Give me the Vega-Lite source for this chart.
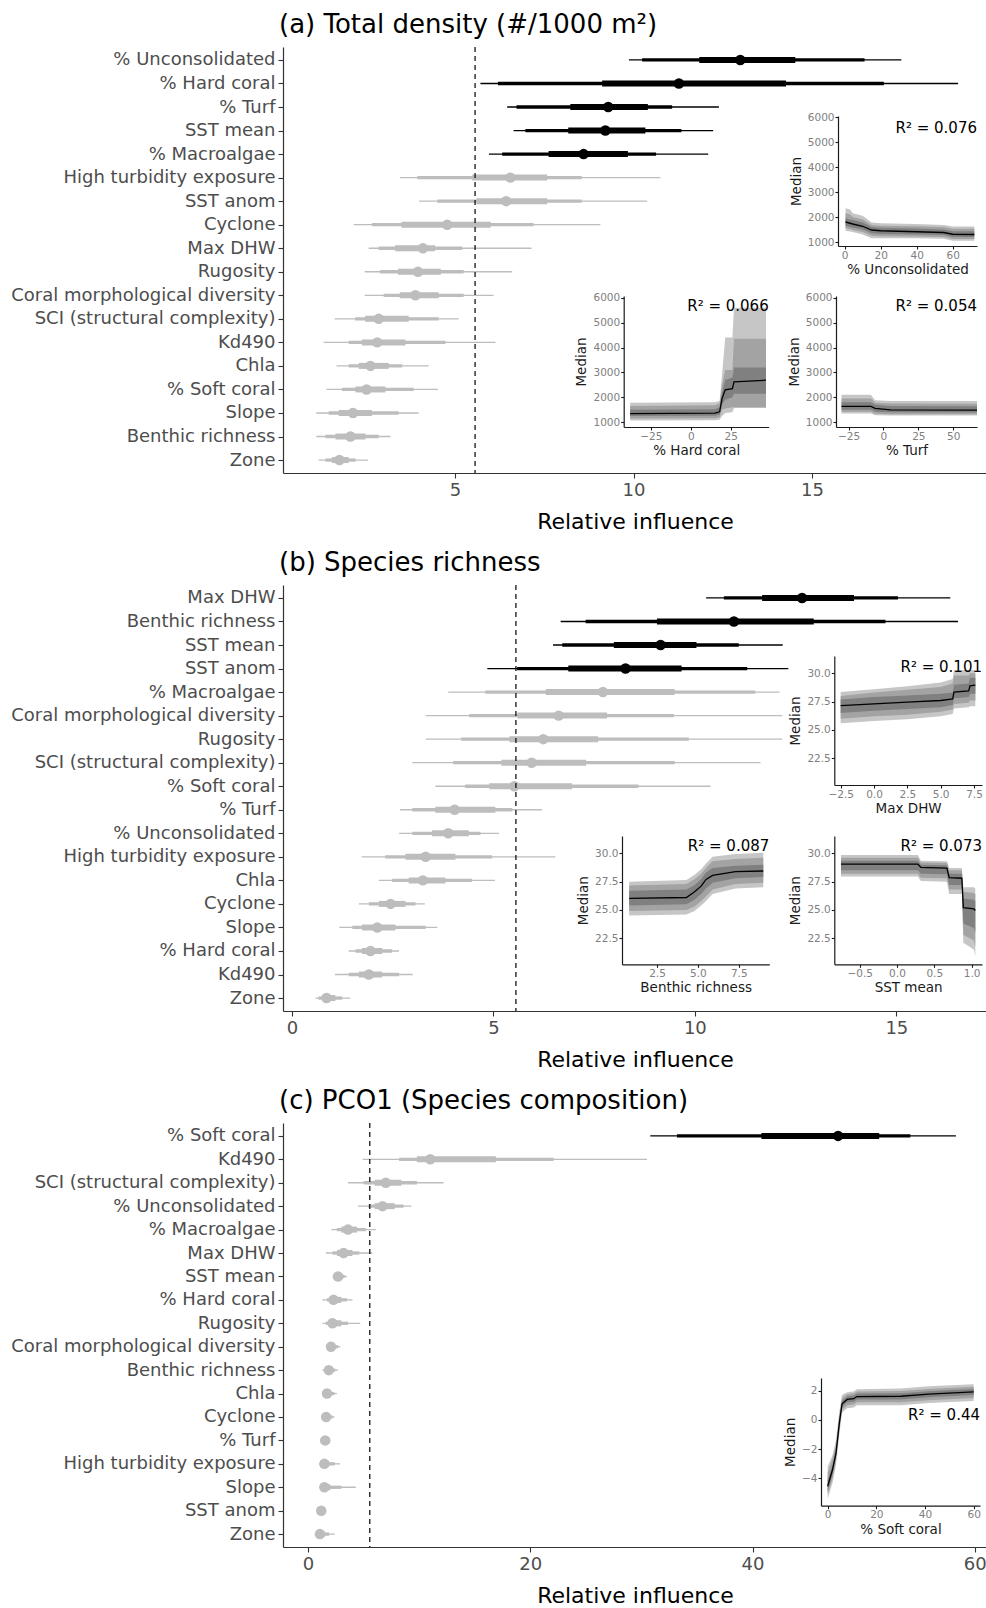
{
  "$schema": "https://vega.github.io/schema/vega-lite/v6.json",
  "background": "white",
  "padding": {"left": 10, "top": 12, "right": 0, "bottom": 0},
  "autosize": {"type": "pad"},
  "config": {
    "font": "DejaVu Sans",
    "view": {"stroke": null},
    "axis": {"grid": false, "domainColor": "#333333", "tickColor": "#333333", "labelColor": "#4d4d4d", "labelFontSize": 18, "titleFontSize": 22, "titleFontWeight": "normal", "titleColor": "#000000", "tickSize": 5, "labelPadding": 3, "domainWidth": 1.2, "tickWidth": 1.1, "labelFont": "DejaVu Sans", "titleFont": "DejaVu Sans", "labelLimit": 400},
    "title": {"font": "DejaVu Sans", "fontSize": 26, "fontWeight": "normal", "color": "#000000", "anchor": "start", "frame": "group", "offset": 8}
  },
  "datasets": {
    "a": [
      {"var": "% Unconsolidated", "lo95": 9.87, "hi95": 17.5, "lo80": 10.24, "hi80": 16.47, "lo50": 11.84, "hi50": 14.53, "med": 12.99, "sig": "yes"},
      {"var": "% Hard coral", "lo95": 5.71, "hi95": 19.09, "lo80": 6.2, "hi80": 17.01, "lo50": 9.12, "hi50": 14.27, "med": 11.27, "sig": "yes"},
      {"var": "% Turf", "lo95": 6.46, "hi95": 12.39, "lo80": 6.72, "hi80": 11.08, "lo50": 8.23, "hi50": 10.4, "med": 9.29, "sig": "yes"},
      {"var": "SST mean", "lo95": 6.64, "hi95": 12.23, "lo80": 6.97, "hi80": 11.34, "lo50": 8.17, "hi50": 10.33, "med": 9.21, "sig": "yes"},
      {"var": "% Macroalgae", "lo95": 5.95, "hi95": 12.09, "lo80": 6.32, "hi80": 10.63, "lo50": 7.62, "hi50": 9.84, "med": 8.6, "sig": "yes"},
      {"var": "High turbidity exposure", "lo95": 3.46, "hi95": 10.75, "lo80": 3.94, "hi80": 8.55, "lo50": 5.48, "hi50": 7.58, "med": 6.55, "sig": "no"},
      {"var": "SST anom", "lo95": 3.99, "hi95": 10.38, "lo80": 4.5, "hi80": 8.55, "lo50": 5.6, "hi50": 7.58, "med": 6.43, "sig": "no"},
      {"var": "Cyclone", "lo95": 2.16, "hi95": 9.07, "lo80": 2.67, "hi80": 7.2, "lo50": 3.5, "hi50": 6.0, "med": 4.78, "sig": "no"},
      {"var": "Max DHW", "lo95": 2.58, "hi95": 7.14, "lo80": 2.86, "hi80": 5.2, "lo50": 3.32, "hi50": 4.44, "med": 4.1, "sig": "no"},
      {"var": "Rugosity", "lo95": 2.47, "hi95": 6.6, "lo80": 2.9, "hi80": 5.24, "lo50": 3.4, "hi50": 4.6, "med": 3.96, "sig": "no"},
      {"var": "Coral morphological diversity", "lo95": 2.47, "hi95": 6.08, "lo80": 3.0, "hi80": 5.24, "lo50": 3.45, "hi50": 4.54, "med": 3.89, "sig": "no"},
      {"var": "SCI (structural complexity)", "lo95": 1.63, "hi95": 5.1, "lo80": 2.2, "hi80": 4.54, "lo50": 2.48, "hi50": 3.7, "med": 2.86, "sig": "no"},
      {"var": "Kd490", "lo95": 1.32, "hi95": 6.13, "lo80": 2.02, "hi80": 4.73, "lo50": 2.39, "hi50": 3.61, "med": 2.82, "sig": "no"},
      {"var": "Chla", "lo95": 1.68, "hi95": 4.26, "lo80": 2.02, "hi80": 3.52, "lo50": 2.3, "hi50": 3.14, "med": 2.63, "sig": "no"},
      {"var": "% Soft coral", "lo95": 1.4, "hi95": 4.52, "lo80": 1.83, "hi80": 3.84, "lo50": 2.21, "hi50": 3.05, "med": 2.52, "sig": "no"},
      {"var": "Slope", "lo95": 1.11, "hi95": 3.98, "lo80": 1.46, "hi80": 3.42, "lo50": 1.74, "hi50": 2.67, "med": 2.14, "sig": "no"},
      {"var": "Benthic richness", "lo95": 1.11, "hi95": 3.19, "lo80": 1.37, "hi80": 2.86, "lo50": 1.65, "hi50": 2.49, "med": 2.07, "sig": "no"},
      {"var": "Zone", "lo95": 1.18, "hi95": 2.56, "lo80": 1.37, "hi80": 2.21, "lo50": 1.55, "hi50": 2.02, "med": 1.76, "sig": "no"}
    ],
    "b": [
      {"var": "Max DHW", "lo95": 10.28, "hi95": 16.34, "lo80": 10.72, "hi80": 15.04, "lo50": 11.67, "hi50": 13.95, "med": 12.66, "sig": "yes"},
      {"var": "Benthic richness", "lo95": 6.67, "hi95": 16.53, "lo80": 7.29, "hi80": 14.73, "lo50": 9.06, "hi50": 12.95, "med": 10.97, "sig": "yes"},
      {"var": "SST mean", "lo95": 6.48, "hi95": 12.18, "lo80": 6.71, "hi80": 11.09, "lo50": 7.99, "hi50": 10.04, "med": 9.15, "sig": "yes"},
      {"var": "SST anom", "lo95": 4.85, "hi95": 12.32, "lo80": 5.59, "hi80": 11.3, "lo50": 6.86, "hi50": 9.67, "med": 8.28, "sig": "yes"},
      {"var": "% Macroalgae", "lo95": 3.88, "hi95": 12.1, "lo80": 4.8, "hi80": 11.5, "lo50": 6.3, "hi50": 9.5, "med": 7.72, "sig": "no"},
      {"var": "Coral morphological diversity", "lo95": 3.32, "hi95": 12.17, "lo80": 4.4, "hi80": 9.48, "lo50": 5.6, "hi50": 7.82, "med": 6.62, "sig": "no"},
      {"var": "Rugosity", "lo95": 3.32, "hi95": 12.17, "lo80": 4.2, "hi80": 9.85, "lo50": 5.4, "hi50": 7.6, "med": 6.24, "sig": "no"},
      {"var": "SCI (structural complexity)", "lo95": 2.99, "hi95": 11.63, "lo80": 4.0, "hi80": 9.5, "lo50": 5.2, "hi50": 7.3, "med": 5.95, "sig": "no"},
      {"var": "% Soft coral", "lo95": 3.56, "hi95": 10.39, "lo80": 4.3, "hi80": 8.6, "lo50": 4.9, "hi50": 6.95, "med": 5.52, "sig": "no"},
      {"var": "% Turf", "lo95": 2.68, "hi95": 6.21, "lo80": 2.99, "hi80": 5.47, "lo50": 3.56, "hi50": 5.05, "med": 4.04, "sig": "no"},
      {"var": "% Unconsolidated", "lo95": 2.66, "hi95": 5.14, "lo80": 2.99, "hi80": 4.68, "lo50": 3.48, "hi50": 4.39, "med": 3.88, "sig": "no"},
      {"var": "High turbidity exposure", "lo95": 1.73, "hi95": 6.54, "lo80": 2.32, "hi80": 4.97, "lo50": 2.82, "hi50": 4.06, "med": 3.32, "sig": "no"},
      {"var": "Chla", "lo95": 2.16, "hi95": 5.04, "lo80": 2.49, "hi80": 4.47, "lo50": 2.9, "hi50": 3.81, "med": 3.25, "sig": "no"},
      {"var": "Cyclone", "lo95": 1.66, "hi95": 3.3, "lo80": 1.91, "hi80": 3.07, "lo50": 2.16, "hi50": 2.82, "med": 2.45, "sig": "no"},
      {"var": "Slope", "lo95": 1.18, "hi95": 3.61, "lo80": 1.5, "hi80": 3.32, "lo50": 1.74, "hi50": 2.57, "med": 2.12, "sig": "no"},
      {"var": "% Hard coral", "lo95": 1.41, "hi95": 2.66, "lo80": 1.58, "hi80": 2.49, "lo50": 1.74, "hi50": 2.24, "med": 1.95, "sig": "no"},
      {"var": "Kd490", "lo95": 1.07, "hi95": 3.0, "lo80": 1.41, "hi80": 2.66, "lo50": 1.66, "hi50": 2.24, "med": 1.91, "sig": "no"},
      {"var": "Zone", "lo95": 0.59, "hi95": 1.45, "lo80": 0.66, "hi80": 1.25, "lo50": 0.75, "hi50": 1.08, "med": 0.86, "sig": "no"}
    ],
    "c": [
      {"var": "% Soft coral", "lo95": 30.8, "hi95": 58.3, "lo80": 33.2, "hi80": 54.2, "lo50": 40.8, "hi50": 51.4, "med": 47.7, "sig": "yes"},
      {"var": "Kd490", "lo95": 4.92, "hi95": 30.5, "lo80": 8.2, "hi80": 22.1, "lo50": 9.8, "hi50": 16.9, "med": 11.0, "sig": "no"},
      {"var": "SCI (structural complexity)", "lo95": 3.6, "hi95": 12.2, "lo80": 5.0, "hi80": 9.8, "lo50": 6.0, "hi50": 8.4, "med": 7.0, "sig": "no"},
      {"var": "% Unconsolidated", "lo95": 4.5, "hi95": 9.3, "lo80": 5.4, "hi80": 8.6, "lo50": 6.0, "hi50": 7.8, "med": 6.7, "sig": "no"},
      {"var": "% Macroalgae", "lo95": 2.1, "hi95": 6.1, "lo80": 2.6, "hi80": 5.2, "lo50": 3.0, "hi50": 4.4, "med": 3.6, "sig": "no"},
      {"var": "Max DHW", "lo95": 1.6, "hi95": 5.8, "lo80": 2.2, "hi80": 4.6, "lo50": 2.6, "hi50": 4.0, "med": 3.2, "sig": "no"},
      {"var": "SST mean", "lo95": 2.2, "hi95": 3.5, "lo80": 2.3, "hi80": 3.3, "lo50": 2.45, "hi50": 3.1, "med": 2.7, "sig": "no"},
      {"var": "% Hard coral", "lo95": 1.3, "hi95": 4.0, "lo80": 1.7, "hi80": 3.5, "lo50": 2.0, "hi50": 3.0, "med": 2.3, "sig": "no"},
      {"var": "Rugosity", "lo95": 1.3, "hi95": 4.7, "lo80": 1.6, "hi80": 3.6, "lo50": 1.9, "hi50": 3.0, "med": 2.2, "sig": "no"},
      {"var": "Coral morphological diversity", "lo95": 1.7, "hi95": 2.9, "lo80": 1.75, "hi80": 2.7, "lo50": 1.85, "hi50": 2.4, "med": 2.07, "sig": "no"},
      {"var": "Benthic richness", "lo95": 1.3, "hi95": 2.7, "lo80": 1.45, "hi80": 2.45, "lo50": 1.6, "hi50": 2.2, "med": 1.87, "sig": "no"},
      {"var": "Chla", "lo95": 1.3, "hi95": 2.6, "lo80": 1.4, "hi80": 2.35, "lo50": 1.5, "hi50": 2.05, "med": 1.71, "sig": "no"},
      {"var": "Cyclone", "lo95": 1.2, "hi95": 2.4, "lo80": 1.3, "hi80": 2.2, "lo50": 1.4, "hi50": 1.95, "med": 1.63, "sig": "no"},
      {"var": "% Turf", "lo95": 1.22, "hi95": 2.0, "lo80": 1.28, "hi80": 1.9, "lo50": 1.35, "hi50": 1.8, "med": 1.55, "sig": "no"},
      {"var": "High turbidity exposure", "lo95": 1.07, "hi95": 2.88, "lo80": 1.15, "hi80": 2.4, "lo50": 1.25, "hi50": 1.9, "med": 1.47, "sig": "no"},
      {"var": "Slope", "lo95": 1.07, "hi95": 4.3, "lo80": 1.15, "hi80": 3.0, "lo50": 1.25, "hi50": 2.0, "med": 1.47, "sig": "no"},
      {"var": "SST anom", "lo95": 0.9, "hi95": 1.6, "lo80": 0.95, "hi80": 1.5, "lo50": 1.0, "hi50": 1.4, "med": 1.19, "sig": "no"},
      {"var": "Zone", "lo95": 0.78, "hi95": 2.4, "lo80": 0.85, "hi80": 1.9, "lo50": 0.9, "hi50": 1.5, "med": 1.07, "sig": "no"}
    ],
    "thr": [{"t": 5.56}],
    "a1": [
      {"x": 0.5, "med": 1800, "lo1": 1450, "hi1": 2350, "lo2": 1550, "hi2": 2150, "lo3": 1650, "hi3": 1950},
      {"x": 3, "med": 1750, "lo1": 1420, "hi1": 2300, "lo2": 1520, "hi2": 2100, "lo3": 1600, "hi3": 1900},
      {"x": 4.5, "med": 1720, "lo1": 1400, "hi1": 2150, "lo2": 1480, "hi2": 2000, "lo3": 1580, "hi3": 1880},
      {"x": 10, "med": 1630, "lo1": 1300, "hi1": 2050, "lo2": 1400, "hi2": 1900, "lo3": 1500, "hi3": 1780},
      {"x": 15, "med": 1480, "lo1": 1150, "hi1": 1780, "lo2": 1250, "hi2": 1680, "lo3": 1350, "hi3": 1600},
      {"x": 20, "med": 1450, "lo1": 1150, "hi1": 1750, "lo2": 1230, "hi2": 1650, "lo3": 1320, "hi3": 1570},
      {"x": 40, "med": 1410, "lo1": 1150, "hi1": 1720, "lo2": 1220, "hi2": 1630, "lo3": 1300, "hi3": 1540},
      {"x": 55, "med": 1380, "lo1": 1130, "hi1": 1680, "lo2": 1200, "hi2": 1600, "lo3": 1280, "hi3": 1500},
      {"x": 60, "med": 1310, "lo1": 1050, "hi1": 1620, "lo2": 1120, "hi2": 1530, "lo3": 1200, "hi3": 1430},
      {"x": 72, "med": 1300, "lo1": 1050, "hi1": 1620, "lo2": 1120, "hi2": 1530, "lo3": 1200, "hi3": 1430}
    ],
    "a2": [
      {"x": -38, "med": 1350, "lo1": 1070, "hi1": 1780, "lo2": 1150, "hi2": 1650, "lo3": 1250, "hi3": 1500},
      {"x": 15, "med": 1370, "lo1": 1080, "hi1": 1800, "lo2": 1160, "hi2": 1680, "lo3": 1260, "hi3": 1520},
      {"x": 18, "med": 1420, "lo1": 1100, "hi1": 1850, "lo2": 1200, "hi2": 1750, "lo3": 1300, "hi3": 1600},
      {"x": 19.5, "med": 1950, "lo1": 1250, "hi1": 2900, "lo2": 1500, "hi2": 2500, "lo3": 1700, "hi3": 2200},
      {"x": 21.5, "med": 2300, "lo1": 1370, "hi1": 4400, "lo2": 1550, "hi2": 3100, "lo3": 1900, "hi3": 2700},
      {"x": 26, "med": 2350, "lo1": 1400, "hi1": 4400, "lo2": 1600, "hi2": 3100, "lo3": 2000, "hi3": 2800},
      {"x": 27, "med": 2620, "lo1": 1575, "hi1": 5600, "lo2": 1600, "hi2": 4350, "lo3": 2150, "hi3": 3200},
      {"x": 47, "med": 2690, "lo1": 1575, "hi1": 5600, "lo2": 1600, "hi2": 4350, "lo3": 2150, "hi3": 3200}
    ],
    "a3": [
      {"x": -30, "med": 1640, "lo1": 1350, "hi1": 2100, "lo2": 1420, "hi2": 1950, "lo3": 1500, "hi3": 1800},
      {"x": -9, "med": 1640, "lo1": 1350, "hi1": 2100, "lo2": 1420, "hi2": 1950, "lo3": 1500, "hi3": 1800},
      {"x": -6, "med": 1560, "lo1": 1280, "hi1": 1880, "lo2": 1340, "hi2": 1780, "lo3": 1420, "hi3": 1700},
      {"x": 5, "med": 1500, "lo1": 1270, "hi1": 1850, "lo2": 1320, "hi2": 1750, "lo3": 1400, "hi3": 1650},
      {"x": 67, "med": 1490, "lo1": 1270, "hi1": 1850, "lo2": 1320, "hi2": 1740, "lo3": 1390, "hi3": 1640}
    ],
    "b1": [
      {"x": -2.5, "med": 27.15, "lo1": 25.6, "hi1": 28.35, "lo2": 26.0, "hi2": 28.0, "lo3": 26.5, "hi3": 27.7},
      {"x": 0, "med": 27.3, "lo1": 25.8, "hi1": 28.6, "lo2": 26.2, "hi2": 28.3, "lo3": 26.7, "hi3": 27.9},
      {"x": 2.5, "med": 27.45, "lo1": 25.95, "hi1": 28.85, "lo2": 26.35, "hi2": 28.55, "lo3": 26.85, "hi3": 28.05},
      {"x": 5.0, "med": 27.6, "lo1": 26.2, "hi1": 29.2, "lo2": 26.6, "hi2": 28.8, "lo3": 27.0, "hi3": 28.2},
      {"x": 5.9, "med": 27.75, "lo1": 26.4, "hi1": 29.5, "lo2": 26.8, "hi2": 29.1, "lo3": 27.2, "hi3": 28.3},
      {"x": 6.0, "med": 28.35, "lo1": 26.9, "hi1": 30.3, "lo2": 27.3, "hi2": 29.8, "lo3": 27.8, "hi3": 29.0},
      {"x": 7.1, "med": 28.45, "lo1": 27.0, "hi1": 30.3, "lo2": 27.4, "hi2": 29.8, "lo3": 27.9, "hi3": 29.1},
      {"x": 7.2, "med": 28.9, "lo1": 27.1, "hi1": 30.3, "lo2": 27.6, "hi2": 30.0, "lo3": 28.2, "hi3": 29.6},
      {"x": 7.6, "med": 28.95, "lo1": 27.1, "hi1": 30.3, "lo2": 27.6, "hi2": 30.0, "lo3": 28.2, "hi3": 29.6}
    ],
    "b2": [
      {"x": 0.8, "med": 26.03, "lo1": 24.5, "hi1": 27.5, "lo2": 24.9, "hi2": 27.15, "lo3": 25.4, "hi3": 26.7},
      {"x": 4.3, "med": 26.1, "lo1": 24.6, "hi1": 27.65, "lo2": 25.0, "hi2": 27.3, "lo3": 25.5, "hi3": 26.8},
      {"x": 4.8, "med": 26.6, "lo1": 24.9, "hi1": 28.1, "lo2": 25.3, "hi2": 27.7, "lo3": 25.9, "hi3": 27.2},
      {"x": 5.2, "med": 27.1, "lo1": 25.4, "hi1": 28.6, "lo2": 25.8, "hi2": 28.2, "lo3": 26.4, "hi3": 27.7},
      {"x": 5.5, "med": 27.7, "lo1": 25.8, "hi1": 29.1, "lo2": 26.2, "hi2": 28.7, "lo3": 26.9, "hi3": 28.3},
      {"x": 5.9, "med": 28.05, "lo1": 26.4, "hi1": 29.7, "lo2": 26.8, "hi2": 29.3, "lo3": 27.4, "hi3": 28.7},
      {"x": 7.3, "med": 28.38, "lo1": 26.9, "hi1": 29.95, "lo2": 27.3, "hi2": 29.5, "lo3": 27.8, "hi3": 28.9},
      {"x": 9.0, "med": 28.44, "lo1": 27.0, "hi1": 30.05, "lo2": 27.4, "hi2": 29.6, "lo3": 27.9, "hi3": 29.0}
    ],
    "b3": [
      {"x": -0.75, "med": 29.05, "lo1": 27.95, "hi1": 29.85, "lo2": 28.2, "hi2": 29.6, "lo3": 28.5, "hi3": 29.35},
      {"x": 0.28, "med": 29.05, "lo1": 27.95, "hi1": 29.85, "lo2": 28.2, "hi2": 29.6, "lo3": 28.5, "hi3": 29.35},
      {"x": 0.32, "med": 28.75, "lo1": 27.55, "hi1": 29.35, "lo2": 27.85, "hi2": 29.2, "lo3": 28.2, "hi3": 29.0},
      {"x": 0.67, "med": 28.7, "lo1": 27.5, "hi1": 29.3, "lo2": 27.8, "hi2": 29.15, "lo3": 28.15, "hi3": 28.95},
      {"x": 0.7, "med": 27.85, "lo1": 26.4, "hi1": 28.7, "lo2": 26.8, "hi2": 28.5, "lo3": 27.2, "hi3": 28.2},
      {"x": 0.87, "med": 27.8, "lo1": 26.4, "hi1": 28.7, "lo2": 26.8, "hi2": 28.5, "lo3": 27.2, "hi3": 28.2},
      {"x": 0.89, "med": 25.2, "lo1": 22.1, "hi1": 27.0, "lo2": 22.8, "hi2": 26.6, "lo3": 23.8, "hi3": 26.0},
      {"x": 1.03, "med": 25.1, "lo1": 21.5, "hi1": 27.0, "lo2": 22.3, "hi2": 26.5, "lo3": 23.4, "hi3": 25.9},
      {"x": 1.05, "med": 24.95, "lo1": 20.9, "hi1": 26.9, "lo2": 21.8, "hi2": 26.4, "lo3": 23.0, "hi3": 25.8}
    ],
    "c1": [
      {"x": 0, "med": -4.55, "lo1": -5.4, "hi1": -3.2, "lo2": -5.1, "hi2": -3.6, "lo3": -4.9, "hi3": -4.1},
      {"x": 2, "med": -3.4, "lo1": -4.3, "hi1": -2.4, "lo2": -4.0, "hi2": -2.7, "lo3": -3.7, "hi3": -3.1},
      {"x": 3.4, "med": -2.3, "lo1": -3.1, "hi1": -1.4, "lo2": -2.8, "hi2": -1.7, "lo3": -2.55, "hi3": -2.0},
      {"x": 4.8, "med": -0.2, "lo1": -1.0, "hi1": 0.6, "lo2": -0.7, "hi2": 0.3, "lo3": -0.45, "hi3": 0.05},
      {"x": 5.9, "med": 1.1, "lo1": 0.5, "hi1": 1.7, "lo2": 0.7, "hi2": 1.5, "lo3": 0.9, "hi3": 1.3},
      {"x": 8, "med": 1.4, "lo1": 0.8, "hi1": 1.9, "lo2": 1.0, "hi2": 1.75, "lo3": 1.2, "hi3": 1.6},
      {"x": 10.7, "med": 1.45, "lo1": 0.85, "hi1": 1.95, "lo2": 1.05, "hi2": 1.8, "lo3": 1.25, "hi3": 1.65},
      {"x": 12, "med": 1.6, "lo1": 1.0, "hi1": 2.1, "lo2": 1.2, "hi2": 1.95, "lo3": 1.4, "hi3": 1.8},
      {"x": 30, "med": 1.62, "lo1": 1.0, "hi1": 2.15, "lo2": 1.2, "hi2": 1.98, "lo3": 1.4, "hi3": 1.82},
      {"x": 41.5, "med": 1.77, "lo1": 1.15, "hi1": 2.3, "lo2": 1.35, "hi2": 2.12, "lo3": 1.55, "hi3": 1.97},
      {"x": 60, "med": 1.92, "lo1": 1.3, "hi1": 2.45, "lo2": 1.5, "hi2": 2.27, "lo3": 1.7, "hi3": 2.12}
    ]
  },
  "vconcat": [
    {
      "width": 704, "height": 426,
      "title": {"text": "(a) Total density (#/1000 m²)", "dx": -4},
      "resolve": {"scale": {"x": "independent", "y": "independent"}, "axis": {"x": "independent", "y": "independent"}},
      "layer": [
        {
          "data": {"name": "a"},
          "encoding": {
            "y": {"field": "var", "type": "nominal", "sort": null, "scale": {"type": "point", "padding": 0.55}, "axis": {"title": null}},
            "color": {"field": "sig", "type": "nominal", "scale": {"domain": ["yes", "no"], "range": ["#000000", "#bdbdbd"]}, "legend": null}
          },
          "layer": [
            {"mark": {"type": "rule", "strokeWidth": 1.3, "strokeCap": "butt"}, "encoding": {"x": {"field": "lo95", "type": "quantitative", "scale": {"domain": [0.18, 19.9]}, "axis": {"values": [5, 10, 15], "title": "Relative influence", "titlePadding": 12}}, "x2": {"field": "hi95"}}},
            {"mark": {"type": "rule", "strokeWidth": 3.3, "strokeCap": "butt"}, "encoding": {"x": {"field": "lo80", "type": "quantitative", "scale": {"domain": [0.18, 19.9]}}, "x2": {"field": "hi80"}}},
            {"mark": {"type": "rule", "strokeWidth": 6, "strokeCap": "butt"}, "encoding": {"x": {"field": "lo50", "type": "quantitative", "scale": {"domain": [0.18, 19.9]}}, "x2": {"field": "hi50"}}},
            {"mark": {"type": "point", "filled": true, "size": 110, "opacity": 1}, "encoding": {"x": {"field": "med", "type": "quantitative", "scale": {"domain": [0.18, 19.9]}}}}
          ]
        },
        {
          "data": {"name": "thr"},
          "mark": {"type": "rule", "strokeDash": [5, 4], "color": "#000000", "strokeWidth": 1.2},
          "encoding": {"x": {"field": "t", "type": "quantitative", "scale": {"domain": [0.18, 19.9]}, "axis": null}}
        },
        {
          "data": {"name": "a1"},
          "encoding": {"x": {"field": "x", "type": "quantitative", "scale": {"domain": [-3.7, 73.5], "range": [555, 694], "nice": false, "zero": false}, "axis": {"orient": "bottom", "offset": -227, "values": [0, 20, 40, 60], "title": "% Unconsolidated", "labelFontSize": 10.5, "titleFontSize": 13.5, "tickSize": 3, "labelPadding": 1, "titlePadding": 2, "labelColor": "#808080", "titleColor": "#1a1a1a", "domainColor": "#1a1a1a", "tickColor": "#1a1a1a", "labelFlush": false}}},
          "layer": [
            {"mark": {"type": "area", "color": "#c6c6c6"}, "encoding": {"y": {"field": "lo1", "type": "quantitative", "scale": {"domain": [840, 6040], "range": [199, 69], "nice": false, "zero": false}, "axis": {"orient": "left", "offset": -555, "values": [1000, 2000, 3000, 4000, 5000, 6000], "format": "d", "title": "Median", "labelFontSize": 10.5, "titleFontSize": 13.5, "tickSize": 3, "labelPadding": 1, "titlePadding": 4, "labelColor": "#808080", "titleColor": "#1a1a1a", "domainColor": "#1a1a1a", "tickColor": "#1a1a1a"}}, "y2": {"field": "hi1"}}},
            {"mark": {"type": "area", "color": "#a3a3a3"}, "encoding": {"y": {"field": "lo2", "type": "quantitative"}, "y2": {"field": "hi2"}}},
            {"mark": {"type": "area", "color": "#808080"}, "encoding": {"y": {"field": "lo3", "type": "quantitative"}, "y2": {"field": "hi3"}}},
            {"mark": {"type": "line", "color": "#000000", "strokeWidth": 1.3}, "encoding": {"y": {"field": "med", "type": "quantitative"}}},
            {"transform": [{"filter": "datum.x == 72"}], "mark": {"type": "text", "align": "right", "baseline": "middle", "fontSize": 15, "fontWeight": "normal", "color": "#000000"}, "encoding": {"x": {"datum": 73.5, "type": "quantitative"}, "y": {"datum": 5560, "type": "quantitative"}, "text": {"value": "R² = 0.076"}}}
          ]
        },
        {
          "data": {"name": "a2"},
          "encoding": {"x": {"field": "x", "type": "quantitative", "scale": {"domain": [-42, 48.7], "range": [340.7, 485.7], "nice": false, "zero": false}, "axis": {"orient": "bottom", "offset": -46, "values": [-25, 0, 25, 50], "title": "% Hard coral", "labelFontSize": 10.5, "titleFontSize": 13.5, "tickSize": 3, "labelPadding": 1, "titlePadding": 2, "labelColor": "#808080", "titleColor": "#1a1a1a", "domainColor": "#1a1a1a", "tickColor": "#1a1a1a", "labelFlush": false}}},
          "layer": [
            {"mark": {"type": "area", "color": "#c6c6c6"}, "encoding": {"y": {"field": "lo1", "type": "quantitative", "scale": {"domain": [810, 6070], "range": [380, 249], "nice": false, "zero": false}, "axis": {"orient": "left", "offset": -340.7, "values": [1000, 2000, 3000, 4000, 5000, 6000], "format": "d", "title": "Median", "labelFontSize": 10.5, "titleFontSize": 13.5, "tickSize": 3, "labelPadding": 1, "titlePadding": 4, "labelColor": "#808080", "titleColor": "#1a1a1a", "domainColor": "#1a1a1a", "tickColor": "#1a1a1a"}}, "y2": {"field": "hi1"}}},
            {"mark": {"type": "area", "color": "#a3a3a3"}, "encoding": {"y": {"field": "lo2", "type": "quantitative"}, "y2": {"field": "hi2"}}},
            {"mark": {"type": "area", "color": "#808080"}, "encoding": {"y": {"field": "lo3", "type": "quantitative"}, "y2": {"field": "hi3"}}},
            {"mark": {"type": "line", "color": "#000000", "strokeWidth": 1.3}, "encoding": {"y": {"field": "med", "type": "quantitative"}}},
            {"transform": [{"filter": "datum.x == 47"}], "mark": {"type": "text", "align": "right", "baseline": "middle", "fontSize": 15, "fontWeight": "normal", "color": "#000000"}, "encoding": {"x": {"datum": 48.7, "type": "quantitative"}, "y": {"datum": 5663, "type": "quantitative"}, "text": {"value": "R² = 0.066"}}}
          ]
        },
        {
          "data": {"name": "a3"},
          "encoding": {"x": {"field": "x", "type": "quantitative", "scale": {"domain": [-34, 67], "range": [553, 694], "nice": false, "zero": false}, "axis": {"orient": "bottom", "offset": -46, "values": [-25, 0, 25, 50], "title": "% Turf", "labelFontSize": 10.5, "titleFontSize": 13.5, "tickSize": 3, "labelPadding": 1, "titlePadding": 2, "labelColor": "#808080", "titleColor": "#1a1a1a", "domainColor": "#1a1a1a", "tickColor": "#1a1a1a", "labelFlush": false}}},
          "layer": [
            {"mark": {"type": "area", "color": "#c6c6c6"}, "encoding": {"y": {"field": "lo1", "type": "quantitative", "scale": {"domain": [810, 6070], "range": [380, 249], "nice": false, "zero": false}, "axis": {"orient": "left", "offset": -553, "values": [1000, 2000, 3000, 4000, 5000, 6000], "format": "d", "title": "Median", "labelFontSize": 10.5, "titleFontSize": 13.5, "tickSize": 3, "labelPadding": 1, "titlePadding": 4, "labelColor": "#808080", "titleColor": "#1a1a1a", "domainColor": "#1a1a1a", "tickColor": "#1a1a1a"}}, "y2": {"field": "hi1"}}},
            {"mark": {"type": "area", "color": "#a3a3a3"}, "encoding": {"y": {"field": "lo2", "type": "quantitative"}, "y2": {"field": "hi2"}}},
            {"mark": {"type": "area", "color": "#808080"}, "encoding": {"y": {"field": "lo3", "type": "quantitative"}, "y2": {"field": "hi3"}}},
            {"mark": {"type": "line", "color": "#000000", "strokeWidth": 1.3}, "encoding": {"y": {"field": "med", "type": "quantitative"}}},
            {"transform": [{"filter": "datum.x == 67"}], "mark": {"type": "text", "align": "right", "baseline": "middle", "fontSize": 15, "fontWeight": "normal", "color": "#000000"}, "encoding": {"x": {"datum": 67, "type": "quantitative"}, "y": {"datum": 5663, "type": "quantitative"}, "text": {"value": "R² = 0.054"}}}
          ]
        }
      ]
    },
    {
      "width": 704, "height": 426,
      "title": {"text": "(b) Species richness", "dx": -4},
      "resolve": {"scale": {"x": "independent", "y": "independent"}, "axis": {"x": "independent", "y": "independent"}},
      "layer": [
        {
          "data": {"name": "b"},
          "encoding": {
            "y": {"field": "var", "type": "nominal", "sort": null, "scale": {"type": "point", "padding": 0.55}, "axis": {"title": null}},
            "color": {"field": "sig", "type": "nominal", "scale": {"domain": ["yes", "no"], "range": ["#000000", "#bdbdbd"]}, "legend": null}
          },
          "layer": [
            {"mark": {"type": "rule", "strokeWidth": 1.3, "strokeCap": "butt"}, "encoding": {"x": {"field": "lo95", "type": "quantitative", "scale": {"domain": [-0.22, 17.25], "nice": false, "zero": false}, "axis": {"values": [0, 5, 10, 15], "title": "Relative influence", "titlePadding": 12}}, "x2": {"field": "hi95"}}},
            {"mark": {"type": "rule", "strokeWidth": 3.3, "strokeCap": "butt"}, "encoding": {"x": {"field": "lo80", "type": "quantitative", "scale": {"domain": [-0.22, 17.25], "nice": false, "zero": false}}, "x2": {"field": "hi80"}}},
            {"mark": {"type": "rule", "strokeWidth": 6, "strokeCap": "butt"}, "encoding": {"x": {"field": "lo50", "type": "quantitative", "scale": {"domain": [-0.22, 17.25], "nice": false, "zero": false}}, "x2": {"field": "hi50"}}},
            {"mark": {"type": "point", "filled": true, "size": 110, "opacity": 1}, "encoding": {"x": {"field": "med", "type": "quantitative", "scale": {"domain": [-0.22, 17.25], "nice": false, "zero": false}}}}
          ]
        },
        {
          "data": {"name": "thr"},
          "mark": {"type": "rule", "strokeDash": [5, 4], "color": "#000000", "strokeWidth": 1.2},
          "encoding": {"x": {"field": "t", "type": "quantitative", "scale": {"domain": [-0.22, 17.25], "nice": false, "zero": false}, "axis": null}}
        },
        {
          "data": {"name": "b1"},
          "encoding": {"x": {"field": "x", "type": "quantitative", "scale": {"domain": [-2.98, 8.1], "range": [551.3, 699], "nice": false, "zero": false}, "axis": {"orient": "bottom", "offset": -226, "values": [-2.5, 0, 2.5, 5, 7.5], "format": ".1f", "title": "Max DHW", "labelFontSize": 10.5, "titleFontSize": 13.5, "tickSize": 3, "labelPadding": 1, "titlePadding": 2, "labelColor": "#808080", "titleColor": "#1a1a1a", "domainColor": "#1a1a1a", "tickColor": "#1a1a1a", "labelFlush": false}}},
          "layer": [
            {"mark": {"type": "area", "color": "#c6c6c6"}, "encoding": {"y": {"field": "lo1", "type": "quantitative", "scale": {"domain": [20.14, 31.53], "range": [200, 71], "nice": false, "zero": false}, "axis": {"orient": "left", "offset": -551.3, "values": [22.5, 25, 27.5, 30], "format": ".1f", "title": "Median", "labelFontSize": 10.5, "titleFontSize": 13.5, "tickSize": 3, "labelPadding": 1, "titlePadding": 4, "labelColor": "#808080", "titleColor": "#1a1a1a", "domainColor": "#1a1a1a", "tickColor": "#1a1a1a"}}, "y2": {"field": "hi1"}}},
            {"mark": {"type": "area", "color": "#a3a3a3"}, "encoding": {"y": {"field": "lo2", "type": "quantitative"}, "y2": {"field": "hi2"}}},
            {"mark": {"type": "area", "color": "#808080"}, "encoding": {"y": {"field": "lo3", "type": "quantitative"}, "y2": {"field": "hi3"}}},
            {"mark": {"type": "line", "color": "#000000", "strokeWidth": 1.3}, "encoding": {"y": {"field": "med", "type": "quantitative"}}},
            {"transform": [{"filter": "datum.x == 7.6"}], "mark": {"type": "text", "align": "right", "baseline": "middle", "fontSize": 15, "fontWeight": "normal", "color": "#000000"}, "encoding": {"x": {"datum": 8.1, "type": "quantitative"}, "y": {"datum": 30.56, "type": "quantitative"}, "text": {"value": "R² = 0.101"}}}
          ]
        },
        {
          "data": {"name": "b2"},
          "encoding": {"x": {"field": "x", "type": "quantitative", "scale": {"domain": [0.36, 9.37], "range": [339, 486.3], "nice": false, "zero": false}, "axis": {"orient": "bottom", "offset": -46.7, "values": [2.5, 5, 7.5], "format": ".1f", "title": "Benthic richness", "labelFontSize": 10.5, "titleFontSize": 13.5, "tickSize": 3, "labelPadding": 1, "titlePadding": 2, "labelColor": "#808080", "titleColor": "#1a1a1a", "domainColor": "#1a1a1a", "tickColor": "#1a1a1a", "labelFlush": false}}},
          "layer": [
            {"mark": {"type": "area", "color": "#c6c6c6"}, "encoding": {"y": {"field": "lo1", "type": "quantitative", "scale": {"domain": [20.2, 31.53], "range": [379.3, 251], "nice": false, "zero": false}, "axis": {"orient": "left", "offset": -339, "values": [22.5, 25, 27.5, 30], "format": ".1f", "title": "Median", "labelFontSize": 10.5, "titleFontSize": 13.5, "tickSize": 3, "labelPadding": 1, "titlePadding": 4, "labelColor": "#808080", "titleColor": "#1a1a1a", "domainColor": "#1a1a1a", "tickColor": "#1a1a1a"}}, "y2": {"field": "hi1"}}},
            {"mark": {"type": "area", "color": "#a3a3a3"}, "encoding": {"y": {"field": "lo2", "type": "quantitative"}, "y2": {"field": "hi2"}}},
            {"mark": {"type": "area", "color": "#808080"}, "encoding": {"y": {"field": "lo3", "type": "quantitative"}, "y2": {"field": "hi3"}}},
            {"mark": {"type": "line", "color": "#000000", "strokeWidth": 1.3}, "encoding": {"y": {"field": "med", "type": "quantitative"}}},
            {"transform": [{"filter": "datum.x == 9"}], "mark": {"type": "text", "align": "right", "baseline": "middle", "fontSize": 15, "fontWeight": "normal", "color": "#000000"}, "encoding": {"x": {"datum": 9.37, "type": "quantitative"}, "y": {"datum": 30.64, "type": "quantitative"}, "text": {"value": "R² = 0.087"}}}
          ]
        },
        {
          "data": {"name": "b3"},
          "encoding": {"x": {"field": "x", "type": "quantitative", "scale": {"domain": [-0.84, 1.14], "range": [551.3, 699], "nice": false, "zero": false}, "axis": {"orient": "bottom", "offset": -46.7, "values": [-0.5, 0, 0.5, 1], "format": ".1f", "title": "SST mean", "labelFontSize": 10.5, "titleFontSize": 13.5, "tickSize": 3, "labelPadding": 1, "titlePadding": 2, "labelColor": "#808080", "titleColor": "#1a1a1a", "domainColor": "#1a1a1a", "tickColor": "#1a1a1a", "labelFlush": false}}},
          "layer": [
            {"mark": {"type": "area", "color": "#c6c6c6"}, "encoding": {"y": {"field": "lo1", "type": "quantitative", "scale": {"domain": [20.2, 31.53], "range": [379.3, 251], "nice": false, "zero": false}, "axis": {"orient": "left", "offset": -551.3, "values": [22.5, 25, 27.5, 30], "format": ".1f", "title": "Median", "labelFontSize": 10.5, "titleFontSize": 13.5, "tickSize": 3, "labelPadding": 1, "titlePadding": 4, "labelColor": "#808080", "titleColor": "#1a1a1a", "domainColor": "#1a1a1a", "tickColor": "#1a1a1a"}}, "y2": {"field": "hi1"}}},
            {"mark": {"type": "area", "color": "#a3a3a3"}, "encoding": {"y": {"field": "lo2", "type": "quantitative"}, "y2": {"field": "hi2"}}},
            {"mark": {"type": "area", "color": "#808080"}, "encoding": {"y": {"field": "lo3", "type": "quantitative"}, "y2": {"field": "hi3"}}},
            {"mark": {"type": "line", "color": "#000000", "strokeWidth": 1.3}, "encoding": {"y": {"field": "med", "type": "quantitative"}}},
            {"transform": [{"filter": "datum.x == 1.05"}], "mark": {"type": "text", "align": "right", "baseline": "middle", "fontSize": 15, "fontWeight": "normal", "color": "#000000"}, "encoding": {"x": {"datum": 1.14, "type": "quantitative"}, "y": {"datum": 30.64, "type": "quantitative"}, "text": {"value": "R² = 0.073"}}}
          ]
        }
      ]
    },
    {
      "width": 704, "height": 424,
      "title": {"text": "(c) PCO1 (Species composition)", "dx": -4},
      "resolve": {"scale": {"x": "independent", "y": "independent"}, "axis": {"x": "independent", "y": "independent"}},
      "layer": [
        {
          "data": {"name": "c"},
          "encoding": {
            "y": {"field": "var", "type": "nominal", "sort": null, "scale": {"type": "point", "padding": 0.55}, "axis": {"title": null}},
            "color": {"field": "sig", "type": "nominal", "scale": {"domain": ["yes", "no"], "range": ["#000000", "#bdbdbd"]}, "legend": null}
          },
          "layer": [
            {"mark": {"type": "rule", "strokeWidth": 1.3, "strokeCap": "butt"}, "encoding": {"x": {"field": "lo95", "type": "quantitative", "scale": {"domain": [-2.25, 61.1], "nice": false, "zero": false}, "axis": {"values": [0, 20, 40, 60], "title": "Relative influence", "titlePadding": 12}}, "x2": {"field": "hi95"}}},
            {"mark": {"type": "rule", "strokeWidth": 3.3, "strokeCap": "butt"}, "encoding": {"x": {"field": "lo80", "type": "quantitative", "scale": {"domain": [-2.25, 61.1], "nice": false, "zero": false}}, "x2": {"field": "hi80"}}},
            {"mark": {"type": "rule", "strokeWidth": 6, "strokeCap": "butt"}, "encoding": {"x": {"field": "lo50", "type": "quantitative", "scale": {"domain": [-2.25, 61.1], "nice": false, "zero": false}}, "x2": {"field": "hi50"}}},
            {"mark": {"type": "point", "filled": true, "size": 110, "opacity": 1}, "encoding": {"x": {"field": "med", "type": "quantitative", "scale": {"domain": [-2.25, 61.1], "nice": false, "zero": false}}}}
          ]
        },
        {
          "data": {"name": "thr"},
          "mark": {"type": "rule", "strokeDash": [5, 4], "color": "#000000", "strokeWidth": 1.2},
          "encoding": {"x": {"field": "t", "type": "quantitative", "scale": {"domain": [-2.25, 61.1], "nice": false, "zero": false}, "axis": null}}
        },
        {
          "data": {"name": "c1"},
          "encoding": {"x": {"field": "x", "type": "quantitative", "scale": {"domain": [-2.75, 62.6], "range": [538, 697], "nice": false, "zero": false}, "axis": {"orient": "bottom", "offset": -41.3, "values": [0, 20, 40, 60], "title": "% Soft coral", "labelFontSize": 10.5, "titleFontSize": 13.5, "tickSize": 3, "labelPadding": 1, "titlePadding": 2, "labelColor": "#808080", "titleColor": "#1a1a1a", "domainColor": "#1a1a1a", "tickColor": "#1a1a1a", "labelFlush": false}}},
          "layer": [
            {"mark": {"type": "area", "color": "#c6c6c6"}, "encoding": {"y": {"field": "lo1", "type": "quantitative", "scale": {"domain": [-5.88, 2.87], "range": [382.7, 255], "nice": false, "zero": false}, "axis": {"orient": "left", "offset": -538, "values": [-4, -2, 0, 2], "title": "Median", "labelFontSize": 10.5, "titleFontSize": 13.5, "tickSize": 3, "labelPadding": 1, "titlePadding": 4, "labelColor": "#808080", "titleColor": "#1a1a1a", "domainColor": "#1a1a1a", "tickColor": "#1a1a1a"}}, "y2": {"field": "hi1"}}},
            {"mark": {"type": "area", "color": "#a3a3a3"}, "encoding": {"y": {"field": "lo2", "type": "quantitative"}, "y2": {"field": "hi2"}}},
            {"mark": {"type": "area", "color": "#808080"}, "encoding": {"y": {"field": "lo3", "type": "quantitative"}, "y2": {"field": "hi3"}}},
            {"mark": {"type": "line", "color": "#000000", "strokeWidth": 1.3}, "encoding": {"y": {"field": "med", "type": "quantitative"}}},
            {"transform": [{"filter": "datum.x == 60"}], "mark": {"type": "text", "align": "right", "baseline": "middle", "fontSize": 15, "fontWeight": "normal", "color": "#000000"}, "encoding": {"x": {"datum": 62.6, "type": "quantitative"}, "y": {"datum": 0.36, "type": "quantitative"}, "text": {"value": "R² = 0.44"}}}
          ]
        }
      ]
    }
  ],
  "spacing": 112,
  "bounds": "flush"
}
